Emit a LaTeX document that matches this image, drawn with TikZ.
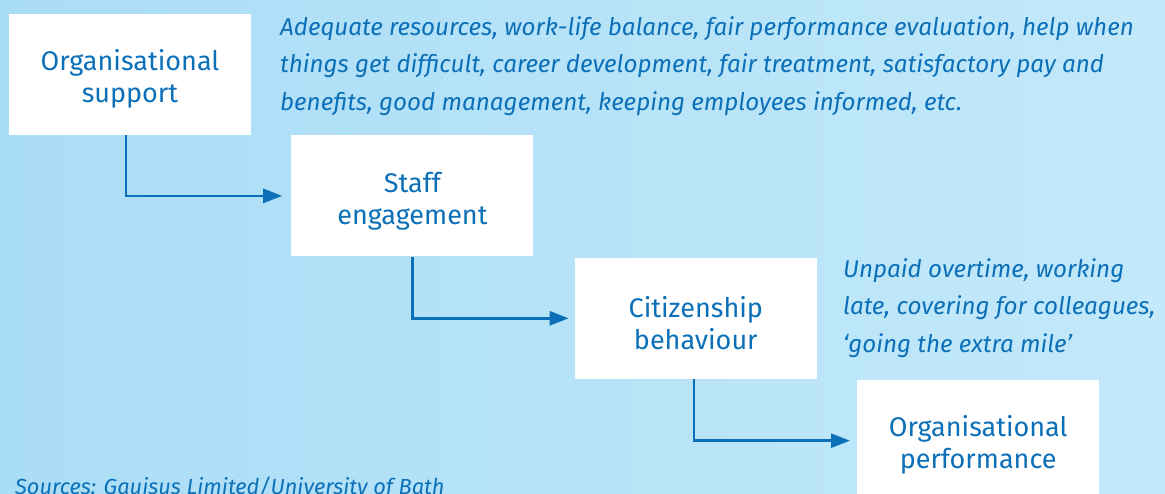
\documentclass[tikz,border=0pt]{standalone}
\usepackage{fontspec}
\setmainfont{Fira Sans}
\usetikzlibrary{positioning,arrows.meta}

\definecolor{inkblue}{HTML}{0B70B8}
\definecolor{skylo}{HTML}{AADDF6}
\definecolor{skyhi}{HTML}{C3E9FA}

% extra room above the first line of a stage label
\newcommand{\stagelift}{\rule{0pt}{30pt}}

\tikzset{
  stage/.style={fill=white, text=inkblue, align=center, inner sep=0pt,
    minimum width=242pt, minimum height=121pt,
    font=\fontsize{27}{32}\selectfont},
  flow/.style={draw=inkblue, line width=2.6pt,
    -{Triangle[length=19pt,width=14pt]}},
  remark/.style={text=inkblue, align=left, inner sep=0pt, anchor=north west,
    font=\itshape\fontsize{24.2}{37.5}\selectfont}
}

\begin{document}
\begin{tikzpicture}[x=1pt,y=-1pt]
  % backdrop
  \shade[left color=skylo, right color=skyhi] (0,0) rectangle (1165,493);
  \useasboundingbox (0,0) rectangle (1165,493);

  % the four stages, stepping down to the right
  \node[stage] (orgsupport) at (130,74.5) {\stagelift Organisational\\support};
  \node[stage, below right=0pt and 40pt of orgsupport] (engagement) {\stagelift Staff\\engagement};
  \node[stage, below right=1pt and 41pt of engagement] (citizenship) {\stagelift Citizenship\\behaviour};
  \node[stage, below right=1pt and 40pt of citizenship] (orgperf) {\stagelift Organisational\\performance};

  \draw[flow] ([xshift=-4pt]orgsupport.south) |- ([xshift=-9pt]engagement.west);
  \draw[flow] (engagement.south) |- ([xshift=-6pt]citizenship.west);
  \draw[flow] ([xshift=-2pt]citizenship.south) |- ([xshift=-7pt]orgperf.west);

  % notes
  \node[remark] (supportnote) at (280,16) {Adequate resources, work-life balance, fair performance evaluation, help when\\
    things get difficult, career development, fair treatment, satisfactory pay and\\
    benefits, good management, keeping employees informed, etc.};
  \node[remark] (citizennote) at (843,258) {Unpaid overtime, working\\
    late, covering for colleagues,\\
    `going the extra mile'};
  \node[remark, anchor=base west, font=\itshape\fontsize{21.8}{24}\selectfont] (sources) at (15,494)
    {Sources: Gauisus Limited/University of Bath};
\end{tikzpicture}
\end{document}
